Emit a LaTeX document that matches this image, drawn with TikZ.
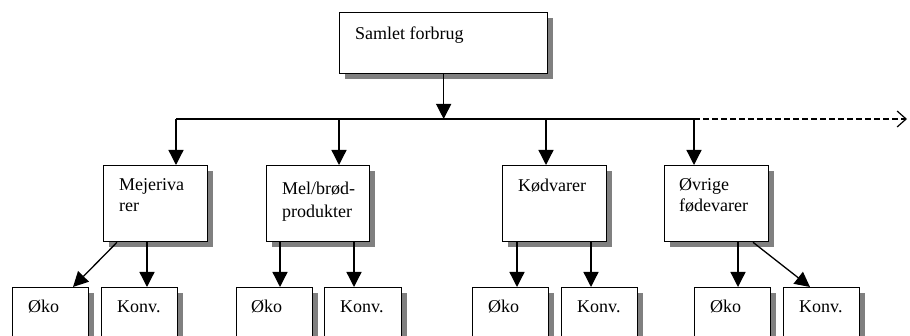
\documentclass[tikz,border=0pt]{standalone}
\usepackage{fontspec}
\setmainfont{Liberation Serif}
\usetikzlibrary{arrows.meta,shadows,calc}
\begin{document}
\begin{tikzpicture}[x=1pt,y=-1pt,
  box/.style={draw=black, line width=1.3pt, fill=white, anchor=north west, inner sep=0pt,
    drop shadow={shadow xshift=5pt, shadow yshift=-5pt, opacity=1, fill=black!50}},
  lbl/.style={anchor=base west, inner sep=0pt, align=left, font=\fontsize{18}{21}\selectfont},
  conn/.style={line width=1.3pt, -{Triangle[length=15pt,width=15pt]}},
  bus/.style={line width=1.3pt}
]
\useasboundingbox (0,0) rectangle (910,336);
\clip (0,0) rectangle (910,336);
% boxes
\node[box, minimum width=208pt, minimum height=61pt] (top) at (339,12) {};
\node[box, minimum width=104pt, minimum height=76pt] (mej) at (103,165) {};
\node[box, minimum width=103pt, minimum height=76pt] (mel) at (266,165) {};
\node[box, minimum width=104pt, minimum height=76pt] (kod) at (502,165) {};
\node[box, minimum width=104pt, minimum height=76pt] (ovr) at (664,165) {};
\node[box, minimum width=76pt, minimum height=70pt] (o1) at (12,287) {};
\node[box, minimum width=76pt, minimum height=70pt] (k1) at (101,287) {};
\node[box, minimum width=76pt, minimum height=70pt] (o2) at (236,287) {};
\node[box, minimum width=77pt, minimum height=70pt] (k2) at (324,287) {};
\node[box, minimum width=76pt, minimum height=70pt] (o3) at (472,287) {};
\node[box, minimum width=76pt, minimum height=70pt] (k3) at (561,287) {};
\node[box, minimum width=76pt, minimum height=70pt] (o4) at (694,287) {};
\node[box, minimum width=76pt, minimum height=70pt] (k4) at (783,287) {};
% texts
\node[lbl] (ttop) at ($(top.north west)+(16,28)$) {Samlet forbrug};
\node[lbl] (tmej) at ($(mej.north west)+(16,47)$) {Mejeriva\\rer};
\node[lbl] (tmel) at ($(mel.north west)+(16,53)$) {Mel/brød-\\[2pt]produkter};
\node[lbl] (tkod) at ($(kod.north west)+(16,27)$) {Kødvarer};
\node[lbl] (tovr) at ($(ovr.north west)+(15,47)$) {Øvrige\\fødevarer};
\node[lbl] (to1) at ($(o1.north west)+(16,26)$) {Øko};
\node[lbl] (tk1) at ($(k1.north west)+(16,26)$) {Konv.};
\node[lbl] (to2) at ($(o2.north west)+(15,26)$) {Øko};
\node[lbl] (tk2) at ($(k2.north west)+(16,26)$) {Konv.};
\node[lbl] (to3) at ($(o3.north west)+(16,26)$) {Øko};
\node[lbl] (tk3) at ($(k3.north west)+(16,26)$) {Konv.};
\node[lbl] (to4) at ($(o4.north west)+(16,26)$) {Øko};
\node[lbl] (tk4) at ($(k4.north west)+(16,26)$) {Konv.};
% bus coordinates
\coordinate (c1) at (176,119);
\coordinate (c2) at (339,119);
\coordinate (c3) at (546,119);
\coordinate (c4) at (694,119);
\coordinate (cend) at (907,119);
\draw[bus] (c1) -- (c4);
\draw[line width=1.2pt, dash pattern=on 6pt off 3pt, -{Straight Barb[length=9pt,width=16pt,line width=1.2pt]}] (c4) -- (cend);
\draw[conn] (top.south) -- (top.south |- c1);
\draw[conn] (c1) -- (c1 |- mej.north);
\draw[conn] (c2) -- (c2 |- mel.north);
\draw[conn] (c3) -- (c3 |- kod.north);
\draw[conn] (c4) -- (c4 |- ovr.north);
% lower connectors
\coordinate (x1) at (147,0);
\coordinate (x2) at (280,0);
\coordinate (x3) at (354,0);
\coordinate (x4) at (517,0);
\coordinate (x5) at (591,0);
\coordinate (x6) at (738,0);
\draw[conn] ($(mej.south west)+(14,0)$) -- ($(o1.north west)+(61,0)$);
\draw[conn] (mej.south -| x1) -- (k1.north -| x1);
\draw[conn] (mel.south -| x2) -- (o2.north -| x2);
\draw[conn] (mel.south -| x3) -- (k2.north -| x3);
\draw[conn] (kod.south -| x4) -- (o3.north -| x4);
\draw[conn] (kod.south -| x5) -- (k3.north -| x5);
\draw[conn] (ovr.south -| x6) -- (o4.north -| x6);
\draw[conn] ($(ovr.south west)+(89,0)$) -- ($(k4.north west)+(27,0)$);
\end{tikzpicture}
\end{document}
